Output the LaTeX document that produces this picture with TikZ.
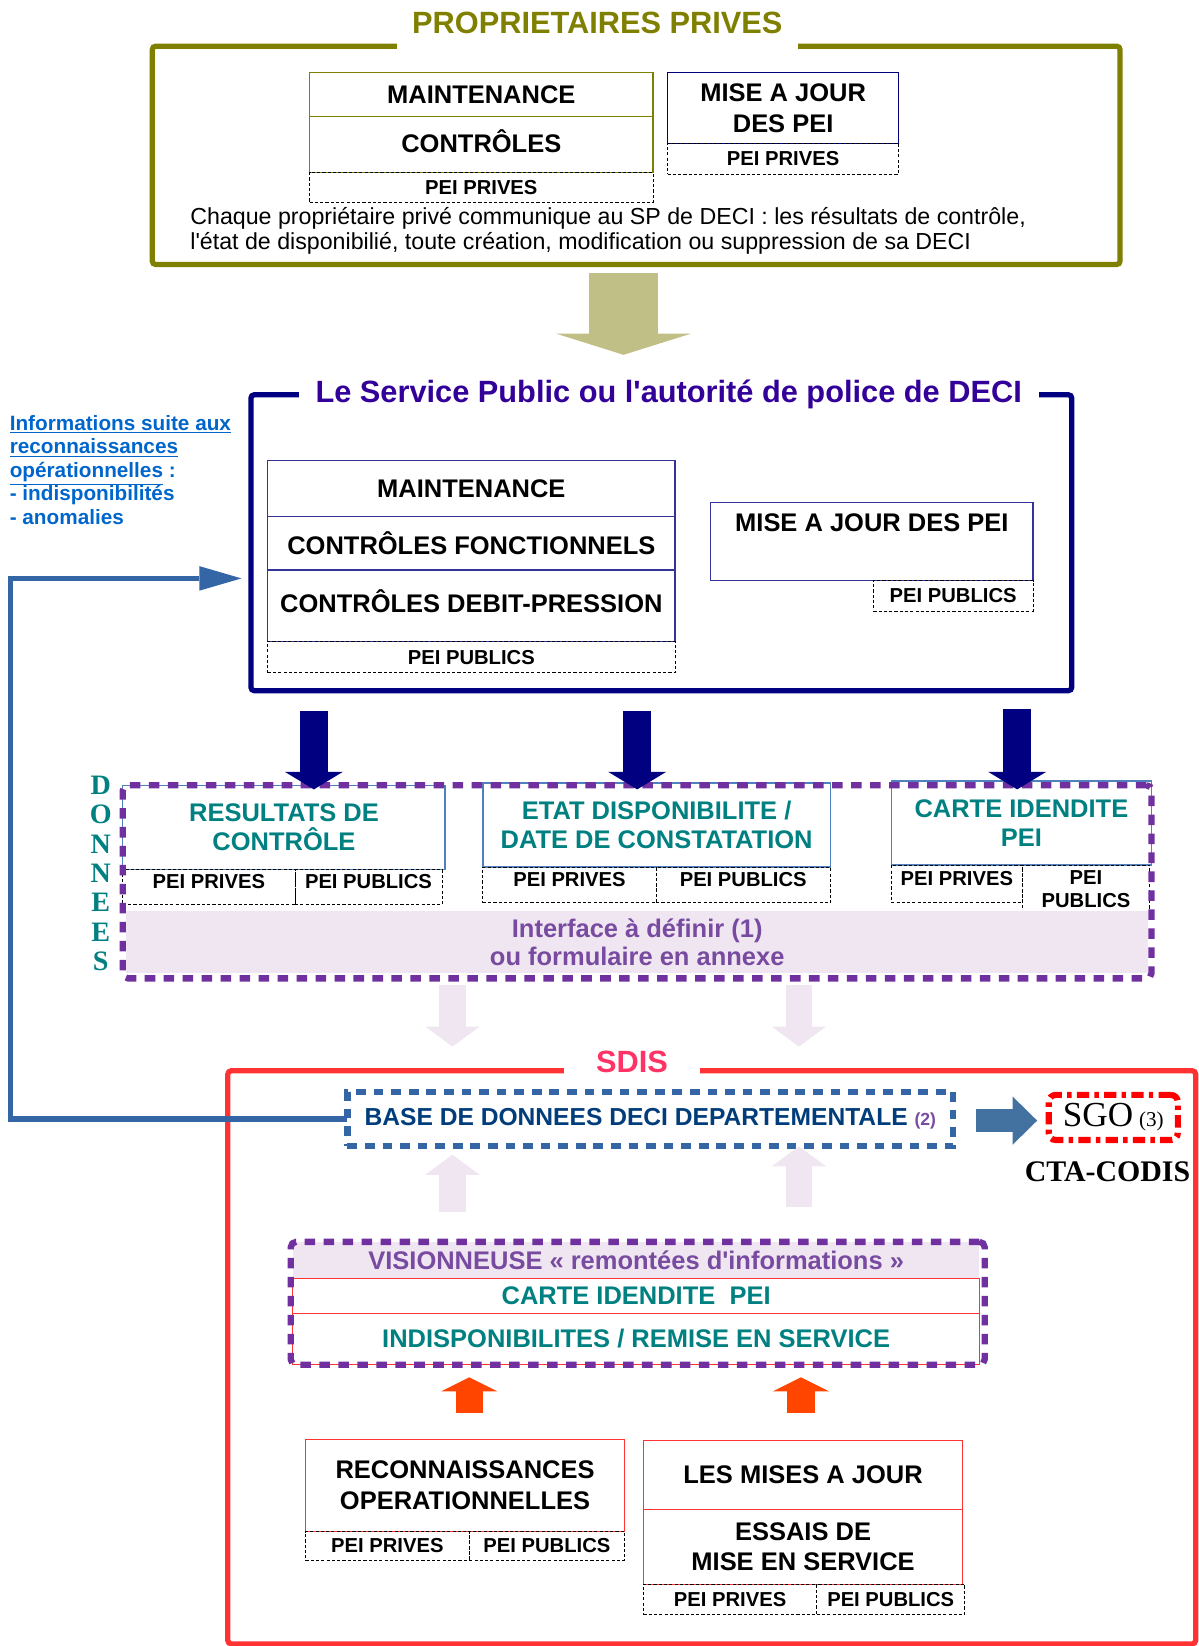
\documentclass[tikz,border=0pt]{standalone}
\usepackage{fontspec}
\setmainfont{Liberation Sans}
\newfontfamily\timesfont{Liberation Serif}
\usepackage{tikz}
\usetikzlibrary{arrows.meta,positioning,calc}
\usepackage{xcolor}
\definecolor{pvolive}{RGB}{128,128,0}
\definecolor{pvkhaki}{RGB}{191,191,134}
\definecolor{spnavy}{RGB}{0,0,128}
\definecolor{spindigo}{RGB}{51,0,153}
\definecolor{spline}{RGB}{51,51,153}
\definecolor{infoblue}{RGB}{0,102,204}
\definecolor{loopblue}{RGB}{52,101,164}
\definecolor{dteal}{RGB}{0,128,128}
\definecolor{dpurple}{RGB}{112,48,160}
\definecolor{dpurpletxt}{RGB}{120,75,160}
\definecolor{dlavender}{RGB}{240,230,242}
\definecolor{dboxblue}{RGB}{79,129,189}
\definecolor{sdisred}{RGB}{255,51,51}
\definecolor{sdispink}{RGB}{255,51,102}
\definecolor{dbtext}{RGB}{0,61,122}
\definecolor{sgoblue}{RGB}{68,114,160}
\definecolor{sgored}{RGB}{255,0,0}
\definecolor{uporange}{RGB}{255,69,0}
\newcommand{\pxu}{0.021cm}
\tikzstyle{bigframe} = [rectangle, draw, line width=5*\pxu, rounded corners=2pt, outer sep=0pt]
\tikzstyle{frametitle} = [rectangle, fill=white, inner sep=0pt, minimum height=52*\pxu, font=\bfseries\fontsize{17.5}{20}\selectfont]
\tikzstyle{box} = [rectangle, draw, line width=0.7pt, outer sep=0pt, inner sep=2pt, align=center, anchor=north west, font=\bfseries\fontsize{14.5}{16.5}\selectfont]
\tikzstyle{pei} = [rectangle, draw, line width=0.5pt, dash pattern=on 1.8pt off 1.2pt, outer sep=0pt, inner sep=1pt, align=center, anchor=north west, font=\bfseries\fontsize{11.5}{13}\selectfont]
\tikzstyle{lavband} = [rectangle, fill=dlavender, outer sep=0pt, inner sep=0pt, align=center, text=dpurpletxt, font=\bfseries\fontsize{14.5}{16}\selectfont]
\tikzstyle{dotframe} = [rectangle, draw=dpurple, line width=6*\pxu, dash pattern=on 6pt off 4.8pt, rounded corners=3pt, outer sep=0pt]
\tikzstyle{fatkhaki} = [pvkhaki, line width=39.4pt, -{Triangle[width=76.5pt,length=12pt,line width=0pt]}]
\tikzstyle{fatnavy} = [spnavy, line width=16pt, -{Triangle[width=33pt,length=10pt,line width=0pt]}]
\tikzstyle{fatlav} = [dlavender, line width=15pt, -{Triangle[width=31pt,length=11.4pt,line width=0pt]}]
\tikzstyle{fatorange} = [uporange, line width=15.5pt, -{Triangle[width=32pt,length=8pt,line width=0pt]}]
\tikzstyle{fatsgo} = [sgoblue, line width=13pt, -{Triangle[width=27.5pt,length=14pt,line width=0pt]}]
\tikzstyle{loopline} = [loopblue, line width=3pt, -{Triangle[width=14pt,length=24pt,line width=0pt]}]

\begin{document}
\begin{tikzpicture}[x=\pxu, y=-\pxu]
\useasboundingbox (0,0) rectangle (1142,1568);

% Proprietaires prives
\node[bigframe, draw=pvolive, minimum width=922*\pxu, minimum height=208*\pxu] (prive) at (606,148) {};
\node[frametitle, text=pvolive, minimum width=382*\pxu] (privetitle) at (569,22) {PROPRIETAIRES PRIVES};

\node[box, draw=pvolive, minimum width=327*\pxu, minimum height=42*\pxu] (maint1) at (295,69) {MAINTENANCE};
\node[box, draw=pvolive, minimum width=327*\pxu, minimum height=53*\pxu, text depth=4pt, below=0pt of maint1] (ctrl1) {CONTRÔLES};
\node[pei, minimum width=327*\pxu, minimum height=29*\pxu, below=0pt of ctrl1] (ctrl1pei) {PEI PRIVES};
\node[box, draw=spnavy, minimum width=220*\pxu, minimum height=68*\pxu] (maj1) at (636,69) {MISE A JOUR\\[1pt]DES PEI};
\node[pei, minimum width=220*\pxu, minimum height=29*\pxu, below=0pt of maj1] (maj1pei) {PEI PRIVES};
\node[anchor=north west, inner sep=0pt, align=left, font=\fontsize{13.2}{14.3}\selectfont] (note) at (181,197) {Chaque propriétaire privé communique au SP de DECI : les résultats de contrôle,\\l\textquotesingle état de disponibilié, toute création, modification ou suppression de sa DECI};

\draw[fatkhaki] ($(prive.south)+(-12,8)$) -- ($(prive.south)+(-12,86)$);

% Service public
\node[bigframe, draw=spnavy, minimum width=782*\pxu, minimum height=282*\pxu] (sp) at (630,517) {};
\node[frametitle, text=spindigo, minimum width=705*\pxu] (sptitle) at (637,376) {Le Service Public ou l\textquotesingle autorité de police de DECI};

\node[box, draw=spline, minimum width=388*\pxu, minimum height=53*\pxu] (maint2) at (255,439) {MAINTENANCE};
\node[box, draw=spline, minimum width=388*\pxu, minimum height=51*\pxu, below=0pt of maint2] (ctrlf) {CONTRÔLES FONCTIONNELS};
\node[box, draw=spline, minimum width=388*\pxu, minimum height=68*\pxu, text depth=5pt, below=0pt of ctrlf] (ctrldp) {CONTRÔLES DEBIT-PRESSION};
\node[pei, minimum width=388*\pxu, minimum height=30*\pxu, below=0pt of ctrldp] (ctrlpei) {PEI PUBLICS};
\node[box, draw=spline, minimum width=307*\pxu, minimum height=74*\pxu, text depth=22pt] (maj2) at (677,479) {MISE A JOUR DES PEI};
\node[pei, minimum width=152*\pxu, minimum height=29*\pxu, below=0pt of maj2.south east, anchor=north east] (maj2pei) {PEI PUBLICS};

\node[anchor=north west, inner sep=0pt, align=left, text=infoblue, font=\bfseries\fontsize{11.8}{13.4}\selectfont] (info) at (9,395) {\underline{Informations suite aux}\\\underline{reconnaissances}\\\underline{opérationnelles} :\\- indisponibilités\\- anomalies};

% Donnees
\node[align=center, text=dteal, inner sep=0pt, font=\timesfont\bfseries\fontsize{16}{16.7}\selectfont] (lettres) at (96,832) {D\\O\\N\\N\\E\\E\\S};

\node[box, draw=dboxblue, text=dteal, minimum width=307*\pxu, minimum height=80*\pxu] (res) at (117,748) {RESULTATS DE\\CONTRÔLE};
\node[pei, minimum width=164*\pxu, minimum height=34*\pxu, text depth=6pt, below=0pt of res.south west, anchor=north west] (respriv) {PEI PRIVES};
\node[pei, minimum width=140*\pxu, minimum height=34*\pxu, text depth=6pt, right=0pt of respriv] (respub) {PEI PUBLICS};

\node[box, draw=dboxblue, text=dteal, minimum width=331*\pxu, minimum height=80*\pxu] (etat) at (460,746) {ETAT DISPONIBILITE /\\DATE DE CONSTATATION};
\node[pei, minimum width=165*\pxu, minimum height=34*\pxu, text depth=6pt, below=0pt of etat.south west, anchor=north west] (etatpriv) {PEI PRIVES};
\node[pei, minimum width=166*\pxu, minimum height=34*\pxu, text depth=6pt, right=0pt of etatpriv] (etatpub) {PEI PUBLICS};

\node[box, draw=dboxblue, text=dteal, minimum width=248*\pxu, minimum height=80*\pxu] (carte) at (849,744) {CARTE IDENDITE\\PEI};
\node[pei, minimum width=125*\pxu, minimum height=36*\pxu, text depth=6pt, below=0pt of carte.south west, anchor=north west] (cartepriv) {PEI PRIVES};
\node[pei, minimum width=121*\pxu, minimum height=46*\pxu, right=0pt of cartepriv.north east, anchor=north west] (cartepub) {PEI\\PUBLICS};

\node[lavband, minimum width=974*\pxu, minimum height=59*\pxu] (interface) at (607,897.5) {Interface à définir (1)\\ou formulaire en annexe};
\node[dotframe, minimum width=980*\pxu, minimum height=184*\pxu] (donnees) at (607,840) {};

\draw[fatnavy] ($(res.north)+(28.5,-71)$) -- ($(res.north)+(28.5,4)$);
\draw[fatnavy] ($(etat.north)+(-18.5,-69)$) -- ($(etat.north)+(-18.5,6)$);
\draw[fatnavy] ($(carte.north)+(-4,-69)$) -- ($(carte.north)+(-4,8)$);

\draw[fatlav] ($(donnees.south)+(-176,6)$) -- ($(donnees.south)+(-176,65)$);
\draw[fatlav] ($(donnees.south)+(154,6)$) -- ($(donnees.south)+(154,65)$);

% SDIS
\node[bigframe, draw=sdisred, minimum width=922*\pxu, minimum height=546*\pxu] (sdis) at (678,1293) {};
\node[frametitle, text=sdispink, minimum width=130*\pxu] (sdistitle) at (602,1012) {SDIS};

\node[rectangle, draw=loopblue, line width=3.5pt, dash pattern=on 5.5pt off 4.5pt, outer sep=0pt, text=dbtext, font=\bfseries\fontsize{14}{16}\selectfont, minimum width=577*\pxu, minimum height=52*\pxu] (base) at (619.5,1066) {BASE DE DONNEES DECI DEPARTEMENTALE {\fontsize{10}{12}\selectfont\color{dpurpletxt}(2)}};

\node[rectangle, draw=sgored, line width=3.5pt, dash pattern=on 7pt off 3pt on 2.5pt off 3pt, rounded corners=4pt, outer sep=0pt, font=\timesfont\fontsize{20}{22}\selectfont, minimum width=123*\pxu, minimum height=43*\pxu] (sgo) at (1060.5,1064.5) {SGO\,{\fontsize{12}{14}\selectfont(3)}};
\node[font=\timesfont\bfseries\fontsize{17}{20}\selectfont, inner sep=0pt] (cta) at (1055,1116) {CTA-CODIS};

\draw[fatsgo] ($(sgo.west)+(-69,3)$) -- ($(sgo.west)+(-11,3)$);
\draw[loopline] (base.west) -| ($(sp.west)+(-229,34)$) -- ($(sp.west)+(-9,34)$);

\draw[fatlav] ($(base.south)+(-188.5,63)$) -- ($(base.south)+(-188.5,8)$);
\draw[fatlav] ($(base.south)+(141.5,58)$) -- ($(base.south)+(141.5,0)$);

% Visionneuse
\node[lavband, anchor=north west, minimum width=654*\pxu, minimum height=35*\pxu] (visio) at (279,1183) {VISIONNEUSE « remontées d\textquotesingle informations »};
\node[box, draw=sdisred, line width=0.6pt, text=dteal, minimum width=654*\pxu, minimum height=33*\pxu, below=0pt of visio] (carte2) {CARTE IDENDITE~~PEI};
\node[box, draw=sdisred, line width=0.6pt, text=dteal, minimum width=654*\pxu, minimum height=49*\pxu, below=0pt of carte2] (indisp) {INDISPONIBILITES / REMISE EN SERVICE};
\node[dotframe, minimum width=661*\pxu, minimum height=117*\pxu] (visioframe) at (607.5,1241.5) {};

% Remontees terrain
\node[box, draw=sdisred, line width=0.6pt, minimum width=304*\pxu, minimum height=88*\pxu] (recon) at (291,1371) {RECONNAISSANCES\\[1pt]OPERATIONNELLES};
\node[pei, minimum width=156*\pxu, minimum height=27*\pxu, below=0pt of recon.south west, anchor=north west] (reconpriv) {PEI PRIVES};
\node[pei, minimum width=148*\pxu, minimum height=27*\pxu, right=0pt of reconpriv] (reconpub) {PEI PUBLICS};

\node[box, draw=sdisred, line width=0.6pt, minimum width=304*\pxu, minimum height=66*\pxu] (majour) at (613,1372) {LES MISES A JOUR};
\node[box, draw=sdisred, line width=0.6pt, minimum width=304*\pxu, minimum height=71*\pxu, below=0pt of majour] (essais) {ESSAIS DE\\[0.5pt]MISE EN SERVICE};
\node[pei, minimum width=165*\pxu, minimum height=29*\pxu, below=0pt of essais.south west, anchor=north west] (essaispriv) {PEI PRIVES};
\node[pei, minimum width=141*\pxu, minimum height=29*\pxu, right=0pt of essaispriv] (essaispub) {PEI PUBLICS};

\draw[fatorange] ($(recon.north)+(4,-25)$) -- ($(recon.north)+(4,-59)$);
\draw[fatorange] ($(majour.north)+(-2,-26)$) -- ($(majour.north)+(-2,-60)$);
\end{tikzpicture}
\end{document}
